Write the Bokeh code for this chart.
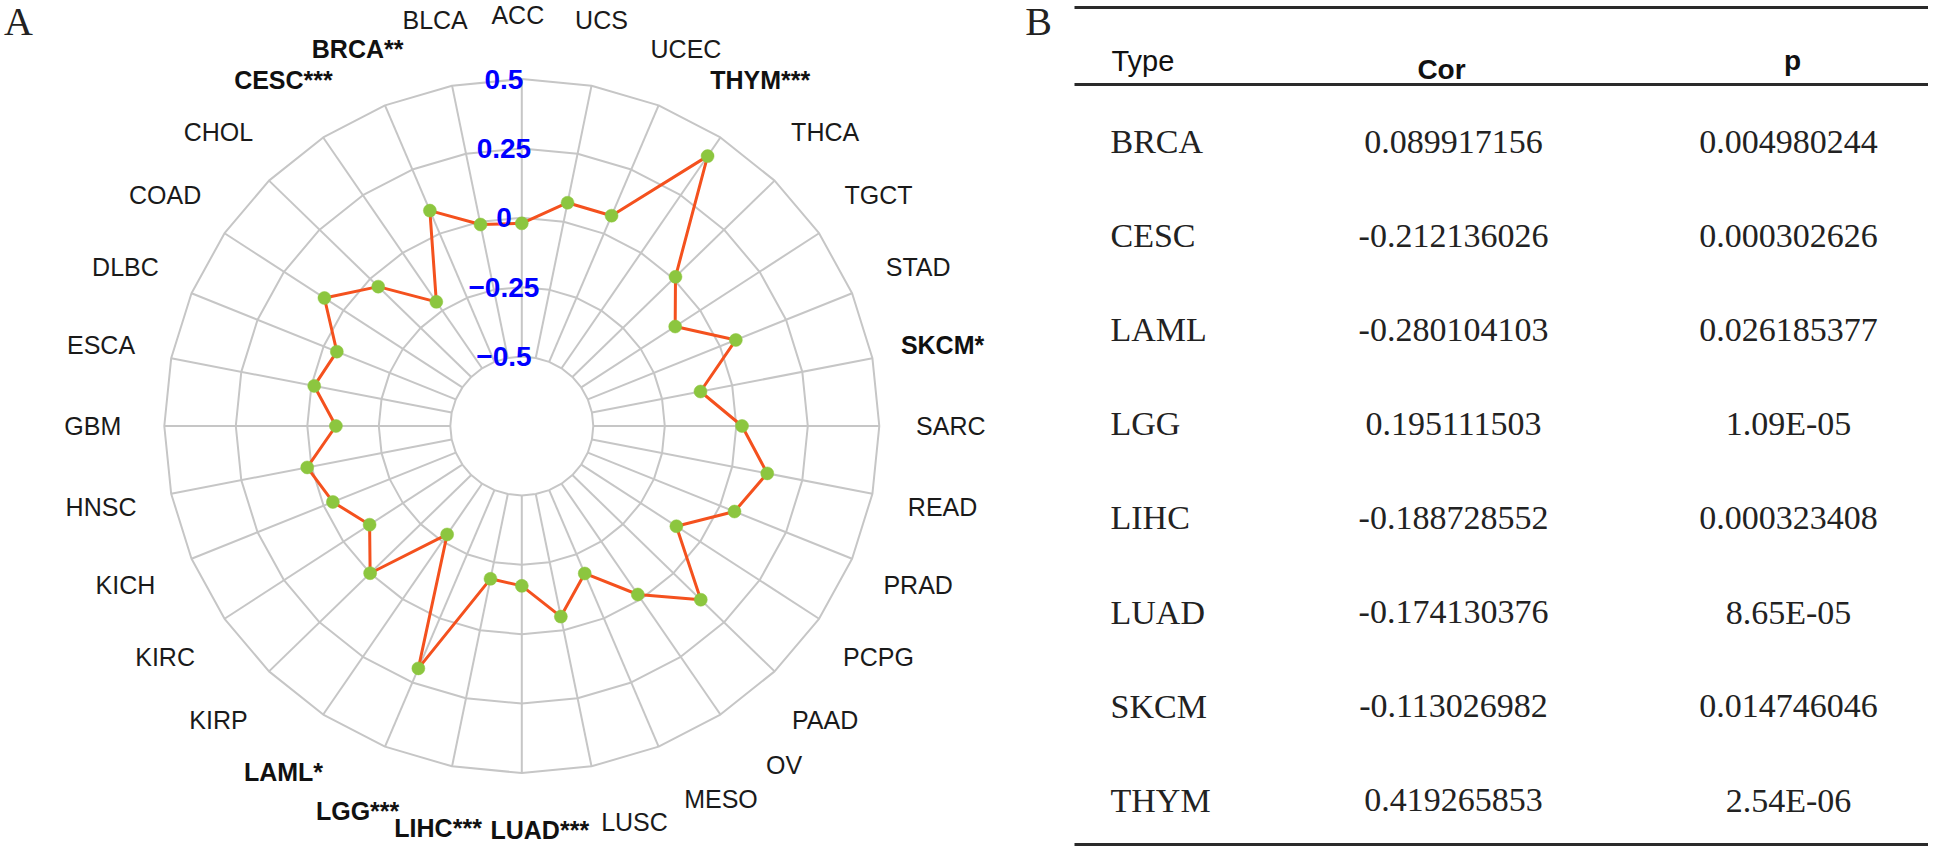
import numpy as np
from bokeh.plotting import figure
from bokeh.models import Range1d, ColumnDataSource
from bokeh.core.properties import value
from bokeh.embed import file_html
from bokeh.resources import INLINE

# ---------------- data ----------------
categories = ["ACC", "BLCA", "BRCA", "CESC", "CHOL", "COAD", "DLBC", "ESCA",
              "GBM", "HNSC", "KICH", "KIRC", "KIRP", "LAML", "LGG", "LIHC",
              "LUAD", "LUSC", "MESO", "OV", "PAAD", "PCPG", "PRAD", "READ",
              "SARC", "SKCM", "STAD", "TGCT", "THCA", "THYM", "UCEC", "UCS"]
cor_values = [-0.02, -0.01, 0.0899, -0.2121, -0.04, 0.08, -0.05, -0.01,
              -0.10, 0.015, -0.035, -0.11, 0.0, -0.2801, 0.1951, -0.1887,
              -0.1741, -0.05, -0.175, -0.02, 0.135, -0.10, 0.055, 0.125,
              0.02, -0.1130, 0.06, -0.105, 0.01, 0.4193, 0.07, 0.07]
stars = {"BRCA": "**", "CESC": "***", "LAML": "*", "LGG": "***",
         "LIHC": "***", "LUAD": "***", "SKCM": "*", "THYM": "***"}
axis_ticks = [-0.5, -0.25, 0.0, 0.25, 0.5]
axis_tick_labels = ["\u22120.5", "\u22120.25", "0", "0.25", "0.5"]

table_header = ["Type", "Cor", "p"]
table_types = ["BRCA", "CESC", "LAML", "LGG", "LIHC", "LUAD", "SKCM", "THYM"]
table_cor = ["0.089917156", "-0.212136026", "-0.280104103", "0.195111503",
             "-0.188728552", "-0.174130376", "-0.113026982", "0.419265853"]
table_p = ["0.004980244", "0.000302626", "0.026185377", "1.09E-05",
           "0.000323408", "8.65E-05", "0.014746046", "2.54E-06"]

# ---------------- layout ----------------
W, H = 1928, 846
p = figure(width=W, height=H, x_range=Range1d(8, 8 + W), y_range=Range1d(8 + H, 8),
           output_backend="svg", toolbar_location=None, min_border=0,
           x_axis_type=None, y_axis_type=None)
p.outline_line_color = None
p.background_fill_color = "white"
p.border_fill_color = "white"

cx, cy = 529.3, 433.5
Rx, Ry = 357.5, 347.0
vmin, vmax = -0.5, 0.5
n = len(categories)
theta = np.pi / 2 + np.arange(n) * 2 * np.pi / n


def rad(v):
    return 0.2 + 0.8 * (np.asarray(v) - vmin) / (vmax - vmin)


def px(r, th):
    return cx + r * Rx * np.cos(th), cy - r * Ry * np.sin(th)


grid_col = "#c6c6c6"
# rings
ring_xs, ring_ys = [], []
for t in axis_ticks:
    gx, gy = px(rad(t), np.append(theta, theta[0]))
    ring_xs.append(list(gx))
    ring_ys.append(list(gy))
p.multi_line(ring_xs, ring_ys, line_color=grid_col, line_width=2)
# spokes
sx0, sy0 = px(rad(vmin), theta)
sx1, sy1 = px(rad(vmax), theta)
p.segment(sx0, sy0, sx1, sy1, line_color=grid_col, line_width=2)

# data
dx_, dy_ = px(rad(cor_values), theta)
p.line(list(dx_) + [dx_[0]], list(dy_) + [dy_[0]], line_color="#f4511e", line_width=3)
p.scatter(dx_, dy_, size=13, fill_color="#8cc63f", line_color="#8cc63f", line_width=0.5)

# axis labels (blue)
tx = [cx - 0.05 * Rx] * len(axis_ticks)
ty = [cy - rad(t) * Ry for t in axis_ticks]
p.text(tx, ty, text=axis_tick_labels, text_align="center", text_baseline="middle",
       text_color="#0000ff", text_font=value("Liberation Sans"), text_font_style="bold",
       text_font_size="28px")

# category labels
nudge = {"ACC": (-4, 5), "BLCA": (-3, 2), "UCS": (-4, 2), "BRCA": (0, 8), "UCEC": (0, 8),
         "LIHC": (0, -6), "LUAD": (18, -12), "LUSC": (29, -12), "MESO": (35, -12),
         "OV": (24, -7)}
lx, ly = px(1.2, theta)
norm = dict(x=[], y=[], t=[])
bold = dict(x=[], y=[], t=[])
for i, c in enumerate(categories):
    ddx, ddy = nudge.get(c, (0, 0))
    d = bold if c in stars else norm
    d["x"].append(lx[i] + ddx)
    d["y"].append(ly[i] + ddy)
    d["t"].append(c + stars.get(c, ""))
p.text("x", "y", text="t", source=ColumnDataSource(norm), text_align="center",
       text_baseline="middle", text_color="#1a1a1a",
       text_font=value("Liberation Sans"), text_font_size="25px")
p.text("x", "y", text="t", source=ColumnDataSource(bold), text_align="center",
       text_baseline="middle", text_color="#111111",
       text_font=value("Liberation Sans"), text_font_style="bold",
       text_font_size="25px")

# panel letters
p.text([26, 1046], [29, 29], text=["A", "B"], text_align="center", text_baseline="middle",
       text_color="#222222", text_font=value("Liberation Serif"), text_font_size="40px")

# ---------------- table ----------------
tx0, tx1 = 1082, 1944
p.segment([tx0, tx0, tx0], [15, 92, 852], [tx1, tx1, tx1], [15, 92, 852],
          line_color="#2a2a2a", line_width=3)
p.text([1119], [68], text=[table_header[0]], text_align="left", text_baseline="alphabetic",
       text_color="#111111", text_font=value("Liberation Sans"), text_font_size="29px")
p.text([1449, 1800], [77, 68], text=table_header[1:], text_align="center",
       text_baseline="alphabetic", text_color="#111111",
       text_font=value("Liberation Sans"), text_font_style="bold",
       text_font_size="28px")

row_y = [149 + 94.1 * i for i in range(len(table_types))]
body_font = dict(text_baseline="middle", text_color="#222222",
                 text_font=value("Liberation Serif"), text_font_size="34px")
p.text([1118] * len(row_y), row_y, text=table_types, text_align="left", **body_font)
p.text([1461] * len(row_y), row_y, text=table_cor, text_align="center", **body_font)
p.text([1796] * len(row_y), row_y, text=table_p, text_align="center", **body_font)

open("out.html", "w").write(file_html(p, INLINE))
